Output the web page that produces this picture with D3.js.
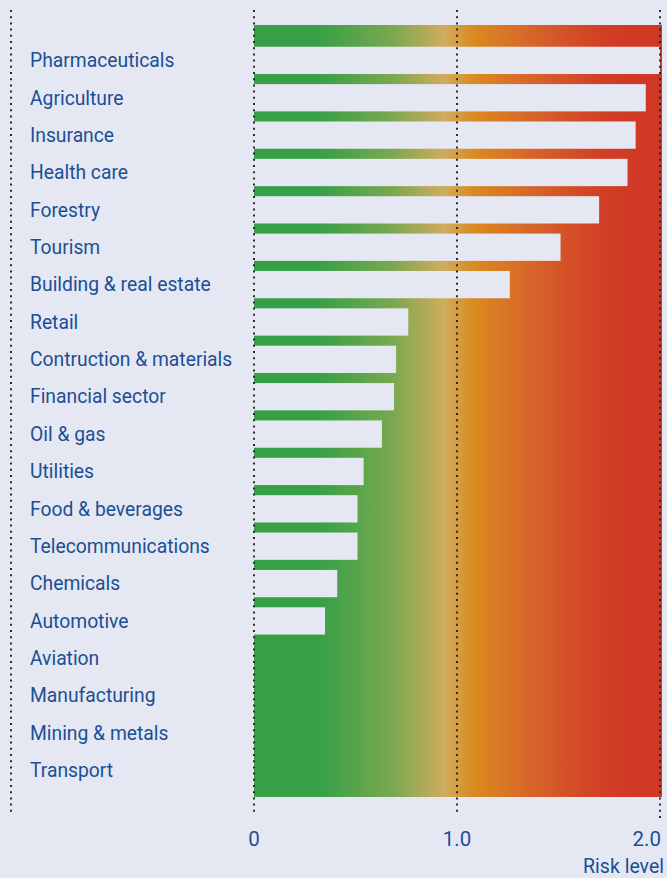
<!DOCTYPE html>
<html><head><meta charset="utf-8">
<script src="https://cdn.jsdelivr.net/npm/d3@7"></script>
<style>
html,body{margin:0;padding:0;background:#e5e8f3;}
svg{display:block;}
</style></head>
<body>
<script>
const categories = ["Pharmaceuticals","Agriculture","Insurance","Health care","Forestry","Tourism","Building & real estate","Retail","Contruction & materials","Financial sector","Oil & gas","Utilities","Food & beverages","Telecommunications","Chemicals","Automotive","Aviation","Manufacturing","Mining & metals","Transport"];
const riskValues = [2.0,1.93,1.88,1.84,1.70,1.51,1.26,0.76,0.70,0.69,0.63,0.54,0.51,0.51,0.41,0.35,0,0,0,0];
const tickValues = [0,1.0,2.0];
const tickLabels = ["0","1.0","2.0"];
const axisTitle = "Risk level";

const W = 667, H = 878;
const svg = d3.select("body").append("svg").attr("width", W).attr("height", H);
svg.append("rect").attr("width", W).attr("height", H).attr("fill", "#e5e8f3");

const x = d3.scaleLinear().domain([0, 2]).range([254, 660]);
const y = d3.scaleBand().domain(categories).range([41.7, 789.1]).paddingInner(0.27).paddingOuter(0.135);

const defs = svg.append("defs");
const grad = defs.append("linearGradient").attr("id", "riskGrad").attr("x1", "0%").attr("x2", "100%").attr("y1", "0%").attr("y2", "0%");
[[0,"#37a047"],[0.16,"#37a047"],[0.34,"#7aa850"],[0.465,"#cfac5e"],[0.54,"#da8a1f"],[0.70,"#d6602a"],[0.86,"#d13d25"],[1,"#d03625"]]
  .forEach(([o,c]) => grad.append("stop").attr("offset", o).attr("stop-color", c));

svg.append("rect").attr("x", x(0)).attr("y", 25).attr("width", x(2) + 2 - x(0)).attr("height", 797 - 25).attr("fill", "url(#riskGrad)");

svg.append("g").selectAll("rect").data(categories).join("rect")
  .attr("x", x(0)).attr("y", d => y(d))
  .attr("width", (d, i) => x(riskValues[i]) - x(0))
  .attr("height", y.bandwidth())
  .attr("fill", "#e5e8f3");

// dotted grid lines
const grid = svg.append("g").attr("stroke", "#2b2b2b").attr("stroke-width", 2).attr("stroke-dasharray", "2,4.2");
grid.append("line").attr("x1", 11).attr("x2", 11).attr("y1", 10).attr("y2", 812);
grid.selectAll("line.g").data(tickValues).join("line").attr("class","g")
  .attr("x1", d => x(d)).attr("x2", d => x(d)).attr("y1", 10).attr("y2", (d,i) => i === 2 ? 819 : 812);

const font = "Roboto,'Liberation Sans',sans-serif";
const blue = "#1b4f95";

svg.append("g").selectAll("text").data(categories).join("text")
  .attr("x", 30).attr("y", d => y(d) + y.bandwidth()/2)
  .attr("dy", "0.35em")
  .attr("font-family", font).attr("font-size", 19.3).attr("fill", blue)
  .text(d => d);

svg.append("g").selectAll("text").data(tickValues).join("text")
  .attr("x", (d, i) => i === 2 ? x(d) + 1 : x(d))
  .attr("y", 846)
  .attr("text-anchor", (d, i) => i === 2 ? "end" : "middle")
  .attr("font-family", font).attr("font-size", 20.5).attr("fill", blue)
  .text((d, i) => tickLabels[i]);

svg.append("text").attr("x", 664).attr("y", 873).attr("text-anchor", "end")
  .attr("font-family", font).attr("font-size", 19.5).attr("fill", blue)
  .text(axisTitle);
</script>
</body></html>
